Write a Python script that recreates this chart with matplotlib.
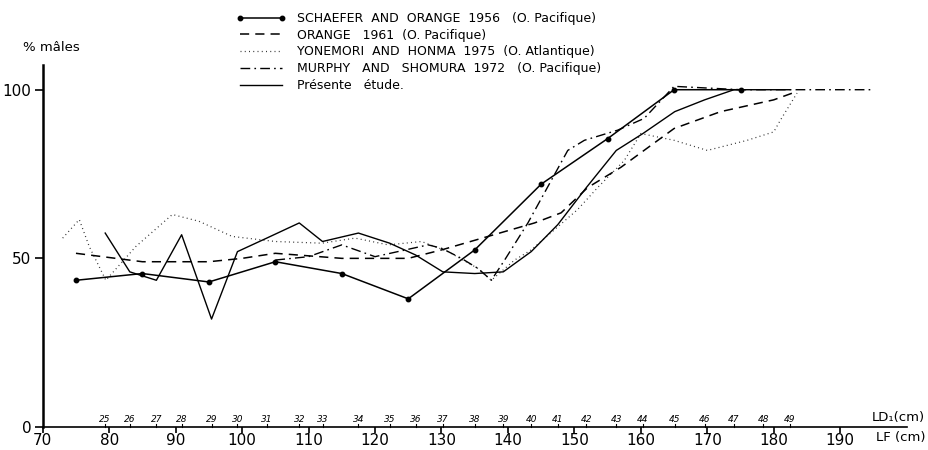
import matplotlib
matplotlib.use("Agg")
import matplotlib.pyplot as plt

# ---- data (LF in cm, % males) ----
schaefer_x = [75, 85, 95, 105, 115, 125, 135, 145, 155, 165, 175]
schaefer_y = [43.5, 45.5, 43, 49, 45.5, 38, 52.5, 72, 85.5, 100, 100]

orange_x = [75, 85, 95, 100, 105, 115, 125, 130, 137, 144, 148, 152, 157, 165, 172, 180, 183.5]
orange_y = [51.5, 49, 49, 50, 51.5, 50, 50, 52.5, 56.5, 60.5, 63.5, 71, 77, 88.5, 93.5, 97, 99.5]

yonemori_x = [73, 75.5, 77, 79.5, 84, 89.5, 93.5, 98.5, 105, 112, 117, 122, 127, 131, 135.5, 137.5,
              141, 143.5, 150.5, 153.5, 157.5, 160, 165, 170, 176, 180, 181, 183.5]
yonemori_y = [56, 61.5, 53.5, 43.5, 53.5, 63, 61, 56.5, 55, 54.5, 56, 54, 55, 52, 47, 43.5,
              49.5, 52.5, 64.5, 71, 79, 87, 85, 82, 85, 87.5, 91, 99]

murphy_x = [105, 110, 115, 120, 128, 130, 133, 135.5, 137.5, 139.5, 143, 149, 151.5, 156.5,
            160.5, 165, 170, 175, 185, 195]
murphy_y = [49.5, 50.5, 54, 50.5, 54, 53, 50, 47, 43.5, 49.5, 60.5, 82, 85, 88, 91.5, 101,
            100.5, 100, 100, 100]

present_x = [79.4, 83.1, 87.1, 90.9, 95.4, 99.3, 103.7, 108.6, 112.1, 117.5, 122.2, 126.1,
             130.2, 135.0, 139.3, 143.5, 147.5, 151.8, 156.3, 160.3, 165.1, 169.6, 174.0,
             178.4, 182.4]
present_y = [57.5, 46, 43.5, 57, 32, 52, 56, 60.5, 55, 57.5, 54.5, 51, 46, 45.5, 46, 52,
             60, 71, 82, 87, 93.5, 97, 100, 100, 100]

# LD1 secondary scale: labels and their LF positions
ld_labels = [str(v) for v in range(25, 50)]
ld_pos = present_x

lf_ticks = list(range(70, 200, 10))
y_ticks = [0, 50, 100]

legend_labels = ["SCHAEFER  AND  ORANGE  1956   (O. Pacifique)",
                 "ORANGE   1961  (O. Pacifique)",
                 "YONEMORI  AND  HONMA  1975  (O. Atlantique)",
                 "MURPHY   AND   SHOMURA  1972   (O. Pacifique)",
                 "Présente   étude."]

plt.rcParams['font.family'] = ['DejaVu Sans']

fig = plt.figure(figsize=(9.29, 4.5), dpi=100)
ax = fig.add_axes([0.046, 0.0511, 0.930, 0.805])
ax.set_xlim(70, 200)
ax.set_ylim(0, 107.4)

k = 'black'
l1, = ax.plot(schaefer_x, schaefer_y, '-', color=k, lw=1.1, marker='o', ms=3.2)
l2, = ax.plot(orange_x, orange_y, color=k, lw=1.1, dashes=(6, 4))
l3, = ax.plot(yonemori_x, yonemori_y, color=k, lw=0.9, dashes=(0.8, 2.6), alpha=0.8)
l4, = ax.plot(murphy_x, murphy_y, color=k, lw=1.0, dashes=(7, 3, 1.2, 3))
l5, = ax.plot(present_x, present_y, '-', color=k, lw=1.0)

for s in ['top', 'right']:
    ax.spines[s].set_visible(False)
ax.spines['left'].set_linewidth(1.8)
ax.spines['bottom'].set_linewidth(1.2)

ax.set_xticks(lf_ticks)
ax.set_xticklabels([str(t) for t in lf_ticks], fontsize=11)
ax.set_yticks(y_ticks)
ax.set_yticklabels([str(t) for t in y_ticks], fontsize=11)
ax.tick_params(axis='x', direction='out', length=4, width=1.2, pad=0)
ax.tick_params(axis='y', direction='out', length=6, width=1.2, pad=2)

# LD1 scale
for p, lab in zip(ld_pos, ld_labels):
    ax.plot([p, p], [0, 1.0], color=k, lw=0.8, clip_on=False)
    ax.text(p, 1.0, lab, fontsize=6.5, style='italic', ha='center', va='bottom')

fig.text(0.996, 0.072, "LD\u2081(cm)", fontsize=9.5, ha='right', va='center')
fig.text(0.996, 0.028, "LF (cm)", fontsize=9.5, ha='right', va='center')
fig.text(0.025, 0.895, "% mâles", fontsize=9.5, ha='left', va='center')

handles = [l1, l2, l3, l4, l5]
leg = fig.legend(handles, legend_labels, loc='upper left', bbox_to_anchor=(0.246, 0.99),
                 frameon=False, fontsize=9, handlelength=4.0, handletextpad=0.9,
                 labelspacing=0.3, numpoints=2, borderaxespad=0.2)

fig.savefig("out.png", dpi=100)
